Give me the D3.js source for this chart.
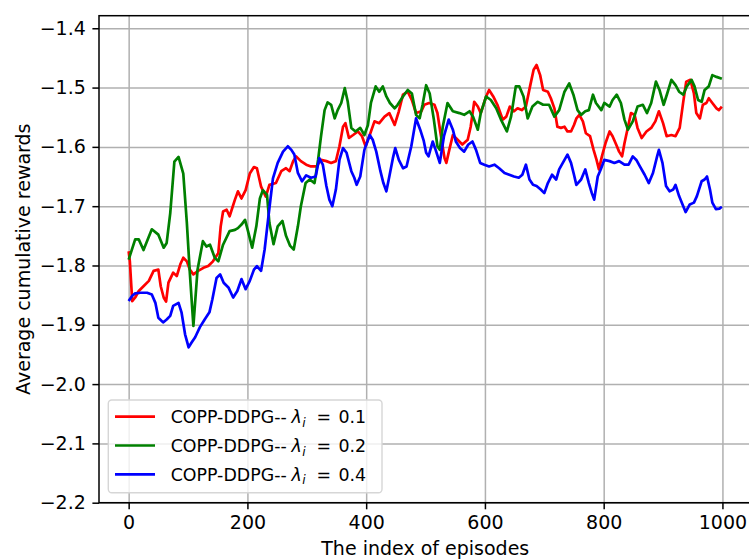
<!DOCTYPE html>
<html>
<head>
<meta charset="utf-8">
<script src="https://cdn.jsdelivr.net/npm/d3@7"></script>
<style>
  body { margin: 0; background: #ffffff; }
  svg text { font-family: 'DejaVu Sans', sans-serif; }
</style>
</head>
<body>
<div id="chart"></div>
<script>
// Series data (episode index, average cumulative reward)
const redEpisodes = [0, 2, 6, 11, 17, 25, 34, 42, 50, 54, 59, 63, 67, 75, 81, 87, 92, 98, 103, 109, 117, 126, 134, 142, 151, 155, 159, 165, 170, 179, 184, 190, 197, 204, 211, 216, 223, 231, 237, 248, 257, 265, 271, 277, 282, 290, 299, 307, 316, 324, 333, 341, 349, 355, 361, 365, 371, 378, 386, 393, 399, 406, 414, 422, 431, 439, 448, 455, 462, 470, 477, 484, 493, 498, 506, 515, 520, 526, 532, 535, 540, 546, 554, 562, 571, 576, 582, 588, 593, 602, 607, 614, 621, 630, 636, 642, 649, 655, 662, 669, 676, 682, 687, 693, 698, 706, 711, 717, 722, 728, 734, 739, 745, 750, 754, 759, 765, 770, 777, 783, 788, 792, 797, 803, 810, 815, 821, 826, 831, 835, 841, 846, 852, 857, 864, 872, 880, 887, 893, 900, 906, 914, 921, 928, 934, 939, 946, 952, 956, 962, 967, 973, 977, 983, 990, 994, 999];
const redValues = [-1.776, -1.793, -1.860, -1.854, -1.843, -1.835, -1.826, -1.809, -1.807, -1.835, -1.854, -1.861, -1.829, -1.812, -1.818, -1.798, -1.787, -1.793, -1.807, -1.815, -1.809, -1.804, -1.801, -1.793, -1.779, -1.734, -1.709, -1.706, -1.717, -1.689, -1.675, -1.687, -1.673, -1.645, -1.634, -1.636, -1.667, -1.684, -1.664, -1.661, -1.641, -1.636, -1.641, -1.624, -1.616, -1.624, -1.630, -1.633, -1.633, -1.622, -1.624, -1.627, -1.624, -1.599, -1.566, -1.560, -1.585, -1.580, -1.574, -1.582, -1.599, -1.580, -1.557, -1.560, -1.549, -1.543, -1.563, -1.540, -1.512, -1.507, -1.521, -1.543, -1.540, -1.529, -1.526, -1.529, -1.543, -1.582, -1.619, -1.627, -1.605, -1.580, -1.588, -1.596, -1.588, -1.566, -1.524, -1.532, -1.543, -1.515, -1.504, -1.515, -1.529, -1.554, -1.549, -1.532, -1.540, -1.535, -1.538, -1.532, -1.498, -1.470, -1.462, -1.479, -1.504, -1.507, -1.518, -1.535, -1.566, -1.568, -1.566, -1.574, -1.574, -1.563, -1.552, -1.546, -1.557, -1.577, -1.582, -1.605, -1.622, -1.638, -1.616, -1.594, -1.574, -1.582, -1.596, -1.608, -1.616, -1.594, -1.566, -1.543, -1.546, -1.568, -1.585, -1.574, -1.568, -1.557, -1.540, -1.560, -1.582, -1.580, -1.582, -1.568, -1.524, -1.490, -1.487, -1.510, -1.543, -1.552, -1.529, -1.526, -1.518, -1.526, -1.535, -1.538, -1.532];

const greenEpisodes = [0, 11, 17, 25, 39, 50, 59, 64, 70, 77, 84, 92, 98, 103, 109, 116, 125, 131, 137, 145, 151, 159, 170, 179, 184, 190, 196, 201, 208, 215, 221, 226, 233, 237, 244, 251, 259, 265, 272, 278, 285, 290, 298, 305, 313, 319, 324, 330, 335, 341, 347, 352, 358, 364, 369, 375, 382, 390, 397, 403, 408, 416, 422, 428, 434, 440, 448, 453, 462, 470, 477, 484, 490, 495, 501, 507, 514, 520, 524, 529, 537, 546, 557, 565, 574, 580, 588, 593, 602, 610, 619, 627, 637, 644, 652, 658, 665, 672, 680, 689, 698, 708, 717, 725, 734, 742, 749, 756, 762, 769, 775, 782, 787, 796, 801, 810, 815, 822, 829, 835, 841, 849, 857, 866, 873, 880, 888, 894, 901, 907, 914, 921, 927, 934, 940, 948, 953, 959, 965, 970, 977, 983, 990, 999];
const greenValues = [-1.790, -1.756, -1.756, -1.774, -1.739, -1.748, -1.770, -1.762, -1.712, -1.625, -1.617, -1.645, -1.728, -1.812, -1.902, -1.807, -1.759, -1.768, -1.765, -1.787, -1.793, -1.765, -1.742, -1.740, -1.737, -1.731, -1.723, -1.742, -1.770, -1.734, -1.687, -1.673, -1.681, -1.728, -1.764, -1.734, -1.725, -1.750, -1.767, -1.773, -1.734, -1.700, -1.661, -1.655, -1.661, -1.622, -1.582, -1.538, -1.525, -1.529, -1.552, -1.538, -1.526, -1.501, -1.524, -1.568, -1.574, -1.568, -1.580, -1.563, -1.526, -1.498, -1.507, -1.498, -1.515, -1.526, -1.535, -1.529, -1.515, -1.504, -1.510, -1.546, -1.552, -1.529, -1.496, -1.510, -1.554, -1.599, -1.605, -1.566, -1.526, -1.540, -1.543, -1.546, -1.540, -1.549, -1.571, -1.543, -1.515, -1.521, -1.535, -1.554, -1.574, -1.549, -1.498, -1.498, -1.515, -1.552, -1.532, -1.524, -1.529, -1.529, -1.549, -1.538, -1.507, -1.493, -1.512, -1.538, -1.546, -1.540, -1.538, -1.512, -1.526, -1.538, -1.526, -1.532, -1.521, -1.512, -1.526, -1.554, -1.571, -1.557, -1.532, -1.529, -1.543, -1.526, -1.490, -1.504, -1.529, -1.510, -1.487, -1.496, -1.507, -1.512, -1.498, -1.487, -1.498, -1.521, -1.524, -1.504, -1.498, -1.479, -1.482, -1.485];

const blueEpisodes = [0, 6, 11, 20, 31, 39, 45, 50, 58, 64, 70, 75, 84, 89, 95, 101, 106, 112, 120, 128, 136, 141, 148, 154, 160, 168, 176, 183, 190, 197, 204, 211, 216, 223, 229, 236, 243, 251, 260, 268, 274, 279, 285, 292, 299, 307, 315, 321, 327, 333, 338, 343, 349, 355, 361, 367, 375, 380, 384, 390, 397, 406, 411, 417, 424, 429, 434, 439, 445, 449, 455, 462, 468, 476, 484, 491, 497, 501, 505, 512, 517, 524, 531, 539, 546, 551, 558, 565, 572, 579, 585, 592, 599, 607, 616, 624, 633, 641, 649, 657, 663, 669, 675, 681, 687, 694, 700, 706, 713, 720, 725, 734, 739, 745, 750, 754, 762, 769, 775, 780, 784, 790, 795, 801, 810, 818, 826, 835, 842, 849, 855, 861, 869, 876, 883, 890, 893, 899, 905, 911, 917, 921, 927, 934, 938, 945, 952, 957, 965, 970, 974, 979, 983, 989, 995, 999];
const blueValues = [-1.860, -1.851, -1.847, -1.846, -1.846, -1.849, -1.863, -1.888, -1.896, -1.891, -1.885, -1.868, -1.863, -1.879, -1.916, -1.938, -1.930, -1.921, -1.904, -1.891, -1.879, -1.857, -1.821, -1.815, -1.829, -1.837, -1.854, -1.843, -1.823, -1.840, -1.826, -1.807, -1.801, -1.809, -1.773, -1.712, -1.653, -1.627, -1.608, -1.599, -1.605, -1.613, -1.644, -1.658, -1.648, -1.652, -1.650, -1.619, -1.630, -1.666, -1.689, -1.700, -1.672, -1.622, -1.602, -1.610, -1.641, -1.652, -1.664, -1.650, -1.605, -1.580, -1.588, -1.608, -1.641, -1.661, -1.675, -1.650, -1.619, -1.602, -1.622, -1.636, -1.633, -1.599, -1.552, -1.571, -1.590, -1.610, -1.616, -1.591, -1.605, -1.627, -1.582, -1.554, -1.571, -1.591, -1.602, -1.608, -1.596, -1.591, -1.605, -1.627, -1.630, -1.633, -1.630, -1.636, -1.644, -1.647, -1.650, -1.652, -1.647, -1.630, -1.655, -1.664, -1.666, -1.672, -1.678, -1.661, -1.647, -1.655, -1.638, -1.622, -1.613, -1.627, -1.647, -1.664, -1.655, -1.638, -1.661, -1.678, -1.689, -1.650, -1.638, -1.622, -1.624, -1.627, -1.624, -1.630, -1.630, -1.616, -1.622, -1.633, -1.647, -1.661, -1.644, -1.616, -1.605, -1.627, -1.666, -1.675, -1.672, -1.664, -1.683, -1.700, -1.710, -1.697, -1.694, -1.683, -1.658, -1.655, -1.650, -1.672, -1.694, -1.705, -1.704, -1.701];

// Legend labels and tick values
const seriesColors = ['#ff0000', '#008000', '#0000ff'];
const lambdaLabels = ['0.1', '0.2', '0.4'];
const xTicks = [0, 200, 400, 600, 800, 1000];
const yTicks = [-2.2, -2.1, -2.0, -1.9, -1.8, -1.7, -1.6, -1.5, -1.4];

const series = [
  { episodes: redEpisodes, values: redValues },
  { episodes: greenEpisodes, values: greenValues },
  { episodes: blueEpisodes, values: blueValues },
].map((s, i) => ({
  color: seriesColors[i],
  label: lambdaLabels[i],
  points: s.episodes.map((ep, j) => ({ episode: ep, value: s.values[j] })),
}));

// Set up SVG dimensions
const W = 749, H = 559;
const plot = { left: 99, right: 751.5, top: 15.7, bottom: 502.7 };
const fontSize = 19;       // tick and axis labels
const legendFont = 17.4;   // legend entries
const tickLen = 6.6;

const svg = d3.select('#chart')
  .append('svg')
  .attr('width', W)
  .attr('height', H);

// Scales
const xScale = d3.scaleLinear().domain([-49.95, 1048.95]).range([plot.left, plot.right]);
const yScale = d3.scaleLinear().domain([-2.2, -1.3788]).range([plot.bottom, plot.top]);

const fmtY = (d) => d3.format('.1f')(d).replace('-', '\u2212');

// Gridlines
svg.append('g')
  .attr('class', 'grid x-grid')
  .attr('transform', `translate(0,${plot.bottom})`)
  .call(d3.axisBottom(xScale).tickValues(xTicks).tickSize(-(plot.bottom - plot.top)).tickFormat(''))
  .call((g) => g.select('.domain').remove())
  .selectAll('line')
  .attr('stroke', '#b0b0b0')
  .attr('stroke-width', 1.5);

svg.append('g')
  .attr('class', 'grid y-grid')
  .attr('transform', `translate(${plot.left},0)`)
  .call(d3.axisLeft(yScale).tickValues(yTicks).tickSize(-(plot.right - plot.left)).tickFormat(''))
  .call((g) => g.select('.domain').remove())
  .selectAll('line')
  .attr('stroke', '#b0b0b0')
  .attr('stroke-width', 1.5);

// Lines
const line = d3.line()
  .x((d) => xScale(d.episode))
  .y((d) => yScale(d.value));

svg.append('defs')
  .append('clipPath')
  .attr('id', 'clip')
  .append('rect')
  .attr('x', plot.left)
  .attr('y', plot.top)
  .attr('width', plot.right - plot.left)
  .attr('height', plot.bottom - plot.top);

svg.append('g')
  .attr('clip-path', 'url(#clip)')
  .selectAll('path')
  .data(series)
  .enter()
  .append('path')
  .attr('fill', 'none')
  .attr('stroke', (d) => d.color)
  .attr('stroke-width', 2.7)
  .attr('stroke-linejoin', 'round')
  .attr('d', (d) => line(d.points));

// Axes
const xAxis = svg.append('g')
  .attr('transform', `translate(0,${plot.bottom})`)
  .call(d3.axisBottom(xScale).tickValues(xTicks).tickSize(tickLen).tickPadding(6.6).tickFormat(d3.format('d')));
xAxis.select('.domain').remove();
xAxis.selectAll('line').attr('stroke', '#000').attr('stroke-width', 1.5);
xAxis.selectAll('text')
  .attr('fill', '#000')
  .style('font-size', `${fontSize}px`)
  .style('font-family', "'DejaVu Sans', sans-serif");

const yAxis = svg.append('g')
  .attr('transform', `translate(${plot.left},0)`)
  .call(d3.axisLeft(yScale).tickValues(yTicks).tickSize(tickLen).tickPadding(6.6).tickFormat(fmtY));
yAxis.select('.domain').remove();
yAxis.selectAll('line').attr('stroke', '#000').attr('stroke-width', 1.5);
yAxis.selectAll('text')
  .attr('fill', '#000')
  .style('font-size', `${fontSize}px`)
  .style('font-family', "'DejaVu Sans', sans-serif");

// Spines
svg.append('rect')
  .attr('x', plot.left)
  .attr('y', plot.top)
  .attr('width', plot.right - plot.left)
  .attr('height', plot.bottom - plot.top)
  .attr('fill', 'none')
  .attr('stroke', '#000')
  .attr('stroke-width', 1.5);

// Axis labels
svg.append('text')
  .attr('x', (plot.left + plot.right) / 2)
  .attr('y', 555)
  .attr('text-anchor', 'middle')
  .style('font-size', `${fontSize}px`)
  .text('The index of episodes');

svg.append('text')
  .attr('transform', `translate(29.5,${(plot.top + plot.bottom) / 2}) rotate(-90)`)
  .attr('text-anchor', 'middle')
  .style('font-size', `${fontSize}px`)
  .text('Average cumulative rewards');

// Legend
const legend = svg.append('g');
legend.append('rect')
  .attr('x', 108.3)
  .attr('y', 400)
  .attr('width', 382 - 108.3)
  .attr('height', 492.7 - 400)
  .attr('rx', 3.5)
  .attr('fill', 'rgba(255,255,255,0.8)')
  .attr('stroke', '#d6d6d6')
  .attr('stroke-width', 1.4);

const rowY = [416.7, 445.5, 474.3];
series.forEach((s, i) => {
  const y = rowY[i];
  legend.append('line')
    .attr('x1', 115).attr('x2', 155)
    .attr('y1', y).attr('y2', y)
    .attr('stroke', s.color)
    .attr('stroke-width', 2.7);

  const base = y + 6.4;
  legend.append('text')
    .attr('x', 170.7).attr('y', base)
    .style('font-size', `${legendFont}px`)
    .text('COPP-DDPG--');
  legend.append('text')
    .attr('x', 291.5).attr('y', base)
    .style('font-size', `${legendFont}px`)
    .style('font-style', 'italic')
    .text('\u03bb');
  legend.append('text')
    .attr('x', 302.3).attr('y', base + 3.6)
    .style('font-size', `${legendFont * 0.7}px`)
    .style('font-style', 'italic')
    .text('i');
  legend.append('text')
    .attr('x', 316.5).attr('y', base)
    .style('font-size', `${legendFont}px`)
    .text('=');
  legend.append('text')
    .attr('x', 338.5).attr('y', base)
    .style('font-size', `${legendFont}px`)
    .text(s.label);
});
</script>
</body>
</html>
